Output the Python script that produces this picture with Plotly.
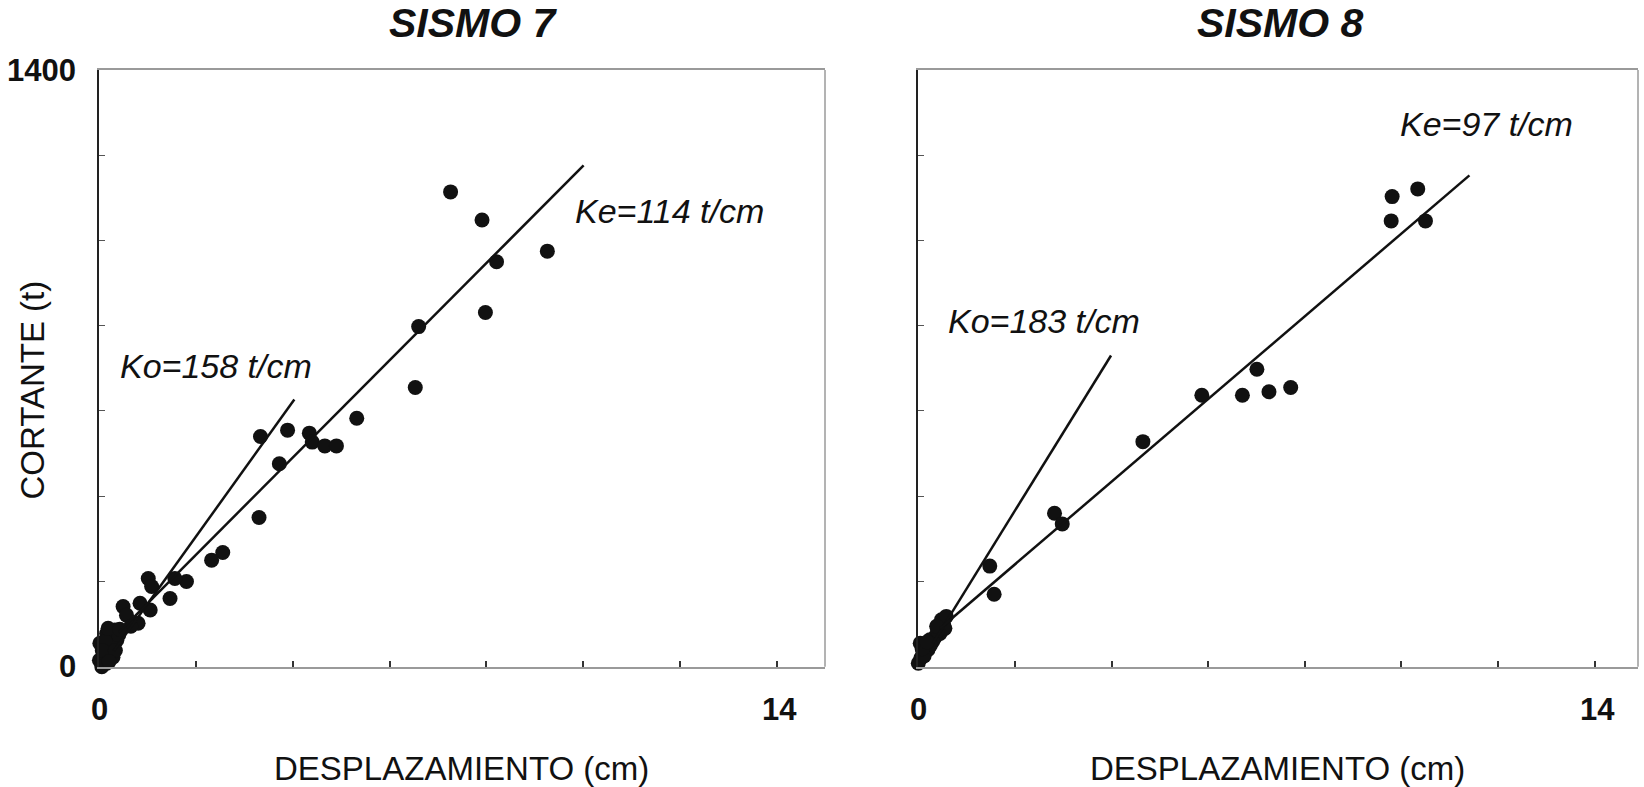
import plotly.graph_objects as go

# ---- SISMO 7: displacement (cm) vs base shear (t) ----
x7 = [7.26, 7.91, 9.26, 8.21, 7.98, 6.60, 6.53, 5.32, 4.34, 4.40, 4.66, 4.90,
      3.89, 3.33, 3.72, 3.30, 2.55, 2.32, 1.80, 1.56, 1.46, 1.01, 1.08, 0.84,
      1.05, 0.49, 0.56, 0.80, 0.65, 0.32, 0.01, 0.15, 0.22, 0.08, 0.15, 0.36,
      0.00, 0.25, 0.10, 0.20, 0.05, 0.30, 0.12, 0.40, 0.18, 0.28, 0.42, 0.06,
      0.33, 0.20]
v7 = [1114, 1048, 975, 950, 831, 798, 655, 583, 548, 527, 518, 518,
      555, 540, 476, 350, 268, 250, 200, 207, 160, 207, 188, 149,
      133, 141, 121, 102, 95, 86, 55, 78, 47, 23, 8, 62,
      15, 70, 40, 30, 0, 50, 60, 75, 90, 22, 88, 38,
      38, 12]

# ---- SISMO 8 ----
x8 = [9.81, 10.34, 9.79, 10.50, 7.01, 5.87, 6.71, 7.26, 7.71, 4.65, 2.82, 2.98,
      1.48, 1.57, 0.52, 0.45, 0.55, 0.48, 0.35, 0.24, 0.04, 0.10, 0.00, 0.15,
      0.30, 0.20, 0.05, 0.40, 0.25, 0.12, 0.58, 0.38, 0.08, 0.18]
v8 = [1103, 1121, 1046, 1046, 698, 637, 637, 645, 655, 528, 360, 335,
      236, 170, 102, 78, 90, 110, 70, 63, 55, 31, 8, 45,
      60, 40, 20, 85, 50, 25, 118, 95, 42, 58]

# stiffness lines: slope (t/cm), intercept (t), x extent (cm)
ko7, ko7_b, ko7_x = 158, -10, [0.3, 4.03]
ke7, ke7_b, ke7_x = 114, 35, [0.4, 10.01]
ko8, ko8_b, ko8_x = 183, 0, [0.3, 3.99]
ke8, ke8_b, ke8_x = 97, 46, [0.45, 11.41]

titles = ["SISMO 7", "SISMO 8"]
stiff_labels = ["Ko=158 t/cm", "Ke=114 t/cm", "Ko=183 t/cm", "Ke=97 t/cm"]
x_title = "DESPLAZAMIENTO (cm)"
y_title = "CORTANTE (t)"

x_ticks = list(range(0, 15, 2))
y_ticks = list(range(0, 1401, 200))
x_labelled = [0, 14]        # only the ends of the x scale carry numbers
y_labelled = [0, 1400]      # only the ends of the y scale carry numbers

W, H = 1644, 787
FONT = "Liberation Sans, Arial, sans-serif"
INK = "#111111"


def px(x):
    return x / W


def py(y):
    return 1 - y / H


fig = go.Figure()


def line_trace(k, b, xs, xa, ya):
    return go.Scatter(x=xs, y=[k * x + b for x in xs], mode="lines",
                      line=dict(color=INK, width=2.5), xaxis=xa, yaxis=ya,
                      hoverinfo="skip")


for xs, vs, xa, ya in [(x7, v7, "x", "y"), (x8, v8, "x2", "y2")]:
    fig.add_trace(go.Scatter(x=xs, y=vs, mode="markers",
                             marker=dict(size=15, color=INK),
                             cliponaxis=False, xaxis=xa, yaxis=ya))

fig.add_trace(line_trace(ko7, ko7_b, ko7_x, "x", "y"))
fig.add_trace(line_trace(ke7, ke7_b, ke7_x, "x", "y"))
fig.add_trace(line_trace(ko8, ko8_b, ko8_x, "x2", "y2"))
fig.add_trace(line_trace(ke8, ke8_b, ke8_x, "x2", "y2"))

ydom = [py(666.7), py(70)]
xdom1 = [px(99.4), px(825)]
xdom2 = [px(918.3), px(1638)]

xaxis_common = dict(tickvals=x_ticks, showticklabels=False, ticks="inside",
                    ticklen=6, tickwidth=1.5, tickcolor="#333",
                    showline=True, linecolor="#9a9a9a", linewidth=1.5,
                    mirror=True, showgrid=False, zeroline=False,
                    automargin=False)
yaxis_common = dict(range=[0, 1400], domain=ydom, tickvals=y_ticks,
                    showticklabels=False, ticks="inside", ticklen=6,
                    tickwidth=1.2, tickcolor="#555",
                    showline=True, linecolor="#222", linewidth=1.5,
                    showgrid=False, zeroline=False, automargin=False)

fig.update_layout(
    width=W, height=H, margin=dict(l=0, r=0, t=0, b=0, autoexpand=False),
    paper_bgcolor="white", plot_bgcolor="white", showlegend=False,
    xaxis=dict(domain=xdom1, range=[0, 15], anchor="y", **xaxis_common),
    yaxis=dict(anchor="x", **yaxis_common),
    xaxis2=dict(domain=xdom2, range=[0, 14.9], anchor="y2", **xaxis_common),
    yaxis2=dict(anchor="x2", **yaxis_common),
)

# right-hand borders of each frame
for xr, yr in [("x domain", "y domain"), ("x2 domain", "y2 domain")]:
    fig.add_shape(type="line", xref=xr, yref=yr, x0=1, x1=1, y0=0, y1=1,
                  line=dict(color="#9a9a9a", width=1.5))

tick_font = dict(family=FONT, size=31, color=INK, weight="bold")
annotations = []
# end-of-scale numbers, placed on the axes' own coordinates
for xa, ya in [("x", "y"), ("x2", "y2")]:
    for v in x_labelled:
        annotations.append(dict(text=str(v), x=v, y=0, xref=xa, yref=ya,
                                showarrow=False, xanchor="center",
                                yanchor="middle", xshift=3 if v else 0,
                                yshift=-43, font=tick_font))
for v in y_labelled:
    annotations.append(dict(text=str(v), x=0, y=v, xref="x", yref="y",
                            showarrow=False, xanchor="right", yanchor="middle",
                            xshift=-21, font=tick_font))
# panel titles
for text, cx in zip(titles, [473, 1280]):
    annotations.append(dict(text=f"<b><i>{text}</i></b>", x=px(cx), y=py(23),
                            xref="paper", yref="paper", showarrow=False,
                            xanchor="center", yanchor="middle",
                            font=dict(family=FONT, size=41, color=INK)))
# stiffness labels
for text, cx, cy in zip(stiff_labels, [216, 669, 1044, 1486], [366, 211, 321, 124]):
    annotations.append(dict(text=f"<i>{text}</i>", x=px(cx), y=py(cy),
                            xref="paper", yref="paper", showarrow=False,
                            xanchor="center", yanchor="middle",
                            font=dict(family=FONT, size=34, color=INK)))
# axis titles
for cx in [461.5, 1277]:
    annotations.append(dict(text=x_title, x=px(cx), y=py(768), xref="paper",
                            yref="paper", showarrow=False, xanchor="center",
                            yanchor="middle",
                            font=dict(family=FONT, size=33, color=INK)))
annotations.append(dict(text=y_title, x=px(31.5), y=py(390), xref="paper",
                        yref="paper", showarrow=False, textangle=-90,
                        xanchor="center", yanchor="middle",
                        font=dict(family=FONT, size=33, color=INK)))
fig.update_layout(annotations=annotations)

fig.write_html("out.html")
